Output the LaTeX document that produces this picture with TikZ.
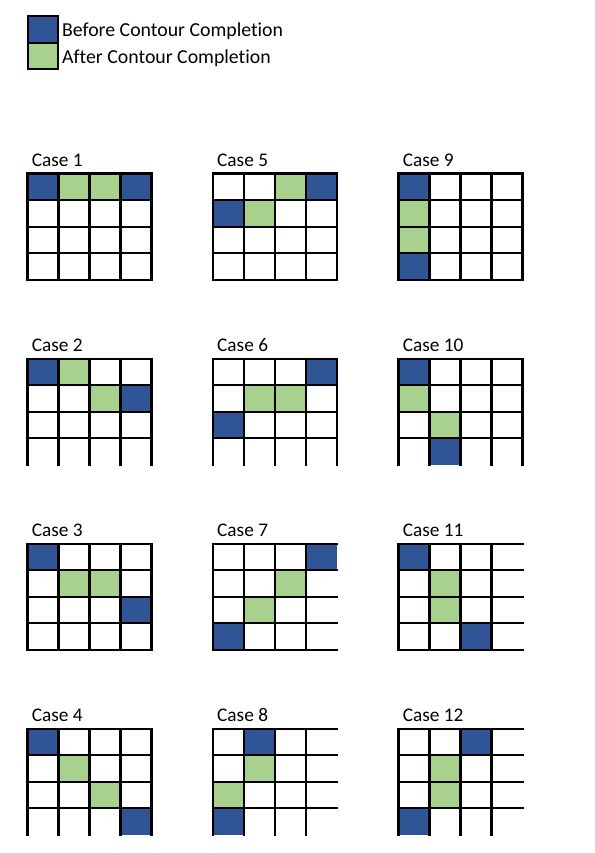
\documentclass[tikz,border=0pt]{standalone}
\usepackage{fontspec}
\setmainfont{Carlito}[Ligatures=NoCommon]
\definecolor{cellblue}{HTML}{2F5597}
\definecolor{cellgreen}{HTML}{A9D18E}
\tikzset{
  gridline/.style={line width=2.4pt, black, line cap=rect},
  casetitle/.style={anchor=base west, inner sep=0pt, font=\fontsize{19.3}{23}\selectfont},
  legendtext/.style={anchor=base west, inner sep=0pt, font=\fontsize{19.8}{23}\selectfont},
  legendbox/.style={draw=black, line width=2.4pt},
}
% #1 x, #2 y, #3 title, #4 name, #5 blue cells, #6 green cells, #7 bottom border, #8 right border
\newcommand{\casegrid}[8]{%
  \node[casetitle] (#4) at (#1+4.3,#2-7) {#3};
  \foreach \c/\r in {#5} {\fill[cellblue] ({#1+\c*31},{#2+\r*26.5}) rectangle ++(31,26.5);}
  \foreach \c/\r in {#6} {\fill[cellgreen] ({#1+\c*31},{#2+\r*26.5}) rectangle ++(31,26.5);}
  \foreach \i in {0,...,3} {\draw[gridline] ({#1+\i*31},#2) -- ({#1+\i*31},#2+106);}
  \ifnum#8=1 \draw[gridline] (#1+124,#2) -- (#1+124,#2+106);\fi
  \foreach \j in {0,...,3} {\draw[gridline] (#1,{#2+\j*26.5}) -- (#1+124,{#2+\j*26.5});}
  \ifnum#7=1 \draw[gridline] (#1,#2+106) -- (#1+124,#2+106);\fi
}
\begin{document}
\begin{tikzpicture}[x=1pt,y=-1pt]
\useasboundingbox[fill=white] (0,0) rectangle (594,853);
% legend
\fill[cellblue] (28,16) rectangle (58,43);
\fill[cellgreen] (28,43) rectangle (58,69);
\draw[legendbox] (28,16) rectangle (58,43);
\draw[legendbox] (28,43) rectangle (58,69);
\node[legendtext] (lgbefore) at (62,36.5) {Before Contour Completion};
\node[legendtext] (lgafter) at (62,63.5) {After Contour Completion};
% row 1
\casegrid{27.3}{173.7}{Case 1}{case1}{0/0,3/0}{1/0,2/0}{1}{1}
\casegrid{212.7}{173.7}{Case 5}{case5}{3/0,0/1}{2/0,1/1}{1}{1}
\casegrid{398.3}{173.7}{Case 9}{case9}{0/0,0/3}{0/1,0/2}{1}{1}
% row 2
\casegrid{27.3}{358.7}{Case 2}{case2}{0/0,3/1}{1/0,2/1}{0}{1}
\casegrid{212.7}{358.7}{Case 6}{case6}{3/0,0/2}{1/1,2/1}{0}{1}
\casegrid{398.3}{358.7}{Case 10}{case10}{0/0,1/3}{0/1,1/2}{0}{1}
% row 3
\casegrid{27.3}{543.7}{Case 3}{case3}{0/0,3/2}{1/1,2/1}{1}{1}
\casegrid{212.7}{543.7}{Case 7}{case7}{3/0,0/3}{2/1,1/2}{1}{0}
\casegrid{398.3}{543.7}{Case 11}{case11}{0/0,2/3}{1/1,1/2}{1}{0}
% row 4
\casegrid{27.3}{728.7}{Case 4}{case4}{0/0,3/3}{1/1,2/2}{0}{1}
\casegrid{212.7}{728.7}{Case 8}{case8}{1/0,0/3}{1/1,0/2}{0}{0}
\casegrid{398.3}{728.7}{Case 12}{case12}{2/0,0/3}{1/1,1/2}{0}{0}
\end{tikzpicture}
\end{document}
